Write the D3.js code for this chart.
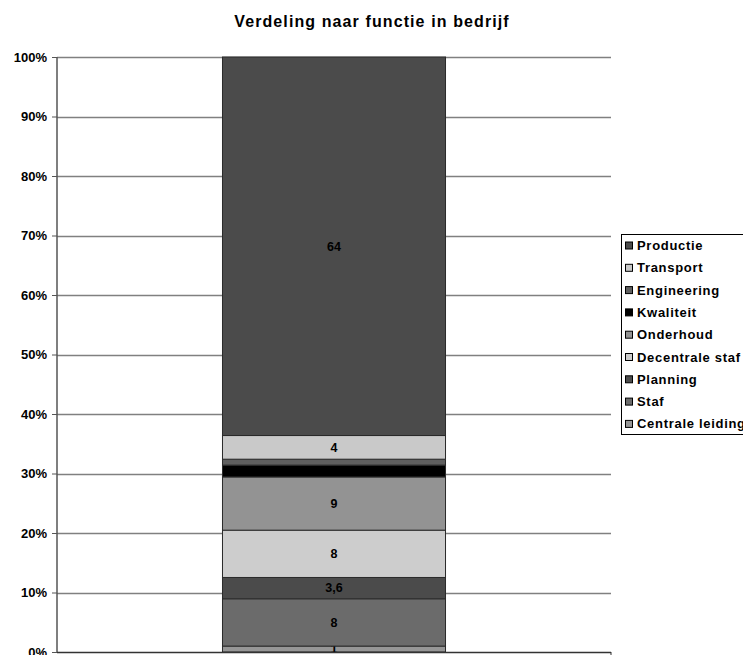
<!DOCTYPE html>
<html lang="nl">
  <style>
    body { margin: 0; background: #fff; }
    .chart text { font-family: "Liberation Sans", Arial, sans-serif; font-weight: bold; fill: #000; }
  </style>
  <head>
    <meta charset="utf-8"/>
    <script src="https://d3js.org/d3.v7.min.js"></script>
  </head>
  <body>
    <svg class="chart" width="743" height="655"></svg>
  </body>
  <script>
    // bottom to top
    const categories = ["Centrale leiding", "Staf", "Planning", "Decentrale staf", "Onderhoud", "Kwaliteit", "Engineering", "Transport", "Productie"];
    const values = [1, 8, 3.6, 8, 9, 2, 1, 4, 64];
    const valueLabels = ["1", "8", "3,6", "8", "9", "", "", "4", "64"];
    const colors = ["#969696", "#6b6b6b", "#4b4b4b", "#cdcdcd", "#939393", "#000000", "#5f5f5f", "#c9c9c9", "#4b4b4b"];
    const yTicks = [0, 0.1, 0.2, 0.3, 0.4, 0.5, 0.6, 0.7, 0.8, 0.9, 1];
    const title = "Verdeling naar functie in bedrijf";

    const svg = d3.select(".chart");
    const mLeft = 57, mRight = 611, mTop = 57, mBottom = 652;

    const total = d3.sum(values);
    let acc = 0;
    const stacked = values.map(function(v, i) {
      const d = { name: categories[i], y0: acc / total, y1: (acc + v) / total, label: valueLabels[i], color: colors[i] };
      acc += v;
      return d;
    });

    const y = d3.scaleLinear().domain([0, 1]).range([mBottom, mTop]);
    const x = d3.scaleBand().domain(["bedrijf"]).range([mLeft, mRight]).paddingInner(0).paddingOuter(0.742);

    // title
    svg.append("text")
      .attr("x", 372).attr("y", 27)
      .attr("text-anchor", "middle")
      .style("font-size", "16px")
      .style("letter-spacing", "1.1px")
      .text(title);

    // gridlines
    svg.append("g").selectAll("line")
      .data(yTicks.filter(function(t) { return t > 0; }))
      .enter().append("line")
        .attr("x1", mLeft).attr("x2", mRight)
        .attr("y1", function(d) { return Math.round(y(d)) + 0.5; })
        .attr("y2", function(d) { return Math.round(y(d)) + 0.5; })
        .attr("stroke", "#808080").attr("stroke-width", 1.5);

    // y axis
    const yAxis = d3.axisLeft(y).tickValues(yTicks).tickFormat(d3.format(".0%")).tickSize(5).tickPadding(5);
    const gy = svg.append("g").attr("transform", "translate(" + mLeft + ",0)").call(yAxis);
    gy.select(".domain").attr("stroke", "#555").attr("stroke-width", 1.5).attr("d", "M0," + mTop + "V" + mBottom);
    gy.selectAll(".tick line").attr("stroke", "#555");
    gy.selectAll(".tick text").style("font-size", "13px").style("font-family", "'Liberation Sans', Arial, sans-serif").style("font-weight", "bold");

    // bar segments
    const seg = svg.append("g").selectAll("g")
      .data(stacked)
      .enter().append("g");

    seg.append("rect")
      .attr("x", x("bedrijf"))
      .attr("y", function(d) { return y(d.y1); })
      .attr("width", x.bandwidth())
      .attr("height", function(d) { return y(d.y0) - y(d.y1); })
      .attr("fill", function(d) { return d.color; })
      .attr("stroke", "#2a2a2a").attr("stroke-width", 1);

    seg.append("text")
      .attr("x", x("bedrijf") + x.bandwidth() / 2)
      .attr("y", function(d) { return (y(d.y0) + y(d.y1)) / 2; })
      .attr("dy", ".35em")
      .attr("text-anchor", "middle")
      .style("font-size", "12.5px")
      .text(function(d) { return d.label; });

    // x axis line
    svg.append("line")
      .attr("x1", mLeft).attr("x2", mRight)
      .attr("y1", mBottom + 0.5).attr("y2", mBottom + 0.5)
      .attr("stroke", "#333").attr("stroke-width", 1.5);
    svg.append("line")
      .attr("x1", mRight).attr("x2", mRight)
      .attr("y1", mBottom).attr("y2", mBottom + 5)
      .attr("stroke", "#333");

    // legend (top to bottom: reversed stack order)
    const legendData = stacked.slice().reverse();
    const lg = svg.append("g").attr("transform", "translate(621,234)");
    lg.append("rect")
      .attr("x", 0.5).attr("y", 0.5)
      .attr("width", 160).attr("height", 200)
      .attr("fill", "#fff").attr("stroke", "#000");
    const item = lg.selectAll("g.item")
      .data(legendData)
      .enter().append("g").attr("class", "item")
        .attr("transform", function(d, i) { return "translate(4," + (11.5 + i * 22.3) + ")"; });
    item.append("rect")
      .attr("x", 0.5).attr("y", -3.5)
      .attr("width", 7).attr("height", 7)
      .attr("fill", function(d) { return d.color; })
      .attr("stroke", "#000").attr("stroke-width", 1);
    item.append("text")
      .attr("x", 12).attr("dy", ".35em")
      .style("font-size", "13px")
      .style("letter-spacing", "0.7px")
      .text(function(d) { return d.name; });
  </script>
</html>
